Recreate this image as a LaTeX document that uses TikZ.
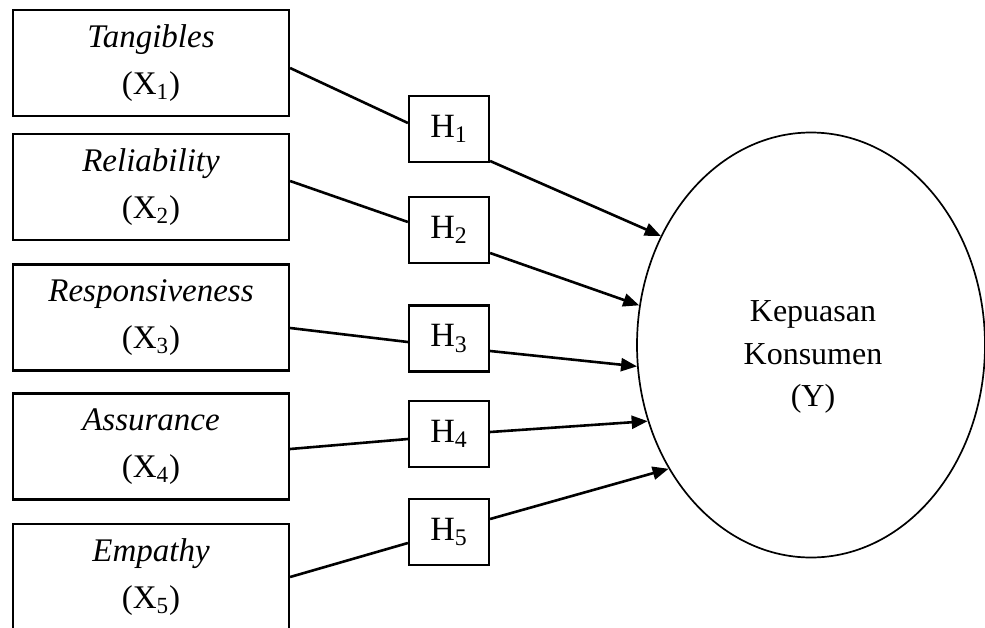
\documentclass[tikz,border=0pt]{standalone}
\usepackage{fontspec}
\setmainfont{Liberation Serif}
\usetikzlibrary{arrows.meta,shapes.geometric}
\begin{document}
\begin{tikzpicture}[x=0.5pt,y=-0.5pt,
  varbox/.style={draw,line width=1.1pt,minimum width=138pt,minimum height=53pt,inner sep=0pt,align=center,font=\fontsize{16.5}{23.5}\selectfont},
  hbox/.style={draw,line width=1.1pt,minimum width=40pt,minimum height=33pt,inner sep=0pt,font=\fontsize{17}{19}\selectfont},
  link/.style={line width=1.3pt},
  arr/.style={line width=1.3pt,-{Triangle[length=8pt,width=6.5pt]}}]
\useasboundingbox (0,0) rectangle (985,627);
% variable boxes
\node[varbox] (X1) at (151,63)    {\textit{Tangibles}\\(X\textsubscript{1})};
\node[varbox] (X2) at (151,187)   {\textit{Reliability}\\(X\textsubscript{2})};
\node[varbox] (X3) at (151,317.5) {\textit{Responsiveness}\\(X\textsubscript{3})};
\node[varbox] (X4) at (151,446.5) {\textit{Assurance}\\(X\textsubscript{4})};
\node[varbox] (X5) at (151,577)   {\textit{Empathy}\\(X\textsubscript{5})};
% hypothesis boxes
\node[hbox] (H1) at (449,129)   {H\textsubscript{1}};
\node[hbox] (H2) at (449,230)   {H\textsubscript{2}};
\node[hbox] (H3) at (449,338.5) {H\textsubscript{3}};
\node[hbox] (H4) at (449,434)   {H\textsubscript{4}};
\node[hbox] (H5) at (449,532)   {H\textsubscript{5}};
% dependent variable
\node[draw,ellipse,line width=0.85pt,minimum width=174pt,minimum height=212.5pt,inner sep=0pt] (Y) at (811,345) {};
\node[align=center,inner sep=0pt,font=\fontsize{16}{21.25}\selectfont] (Ytext) at (813,357) {Kepuasan\\Konsumen\\(Y)};
% connectors
\draw[link] ([yshift=-2.5pt]X1.east) -- ([yshift=3pt]H1.west);
\draw[link] ([yshift=3pt]X2.east) -- ([yshift=4pt]H2.west);
\draw[link] ([yshift=-5.25pt]X3.east) -- ([yshift=-1.75pt]H3.west);
\draw[link] ([yshift=-1.25pt]X4.east) -- ([yshift=-2.5pt]H4.west);
\draw[link] (X5.east) -- ([yshift=-5.5pt]H5.west);
\draw[arr] ([yshift=-16pt]H1.east) -- (Y.144.7);
\draw[arr] ([yshift=-11.5pt]H2.east) -- (Y.167.1);
\draw[arr] ([yshift=-6.25pt]H3.east) -- (Y.187.9);
\draw[arr] ([yshift=1pt]H4.east) -- (Y.205);
\draw[arr] ([yshift=6.5pt]H5.east) -- (Y.221.3);
\end{tikzpicture}
\end{document}
